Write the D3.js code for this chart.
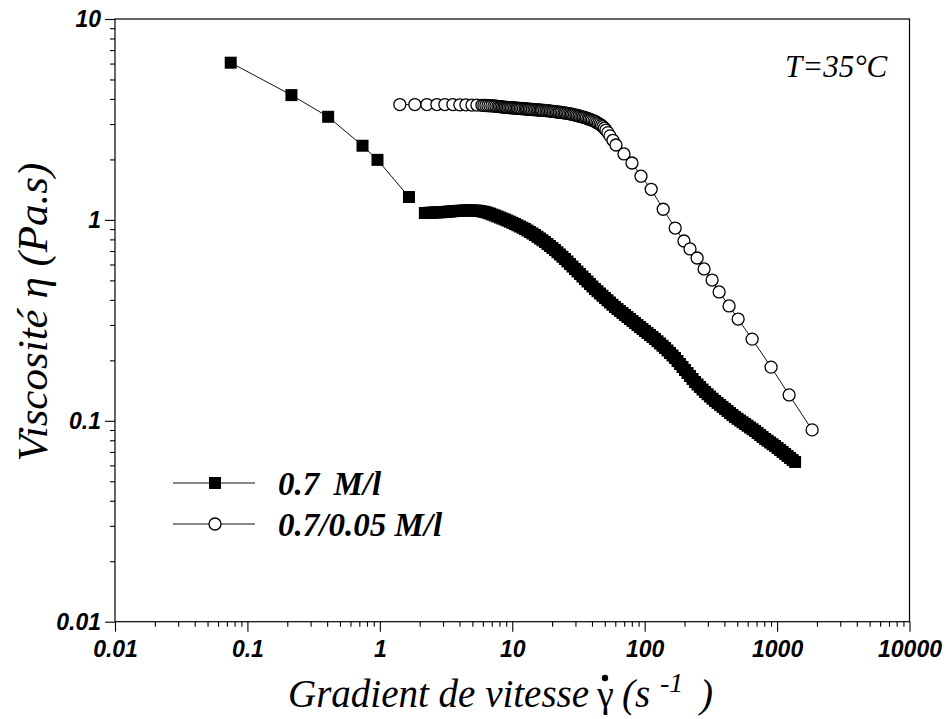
<!DOCTYPE html>
<html><head><meta charset="utf-8">
<script src="https://cdn.jsdelivr.net/npm/d3@7"></script>
<style>body{margin:0;background:#fff}svg{display:block}</style>
</head><body>
<svg id="c" width="951" height="719"></svg>
<script>
// ---- data ----
const xMajor = [0.01, 0.1, 1, 10, 100, 1000, 10000];
const xMajorLabels = ["0.01", "0.1", "1", "10", "100", "1000", "10000"];
const yMajor = [0.01, 0.1, 1, 10];
const yMajorLabels = ["0.01", "0.1", "1", "10"];

const seriesNames = ["0.7 M/l", "0.7/0.05 M/l"];
const annotation = "T=35°C";

// 0.7 M/l : first (low shear) points
const lowRate = [0.0748, 0.215, 0.407, 0.74, 0.96, 1.66];
const lowVisc = [6.06, 4.18, 3.26, 2.34, 1.99, 1.30];

// 0.7 M/l : dense ramp
const rampRate = [2.188, 2.285, 2.387, 2.493, 2.604, 2.720, 2.841, 2.967, 3.099, 3.237,
  3.381, 3.531, 3.688, 3.852, 4.022, 4.201, 4.388, 4.583, 4.787, 5.000,
  5.223, 5.455, 5.697, 5.951, 6.216, 6.492, 6.781, 7.082, 7.396, 7.725,
  8.069, 8.427, 8.802, 9.194, 9.603, 10.03, 10.48, 10.94, 11.43, 11.94,
  12.47, 13.02, 13.60, 14.21, 14.84, 15.50, 16.19, 16.91, 17.66, 18.44,
  19.26, 20.12, 21.01, 21.94, 22.92, 23.94, 25.00, 26.11, 27.28, 28.49,
  29.76, 31.08, 32.46, 33.91, 35.41, 36.99, 38.63, 40.35, 42.14, 44.02,
  45.97, 48.02, 50.15, 52.38, 54.71, 57.14, 59.68, 62.34, 65.11, 68.00,
  71.03, 74.19, 77.48, 80.93, 84.53, 88.29, 92.22, 96.32, 100.6, 105.1,
  109.7, 114.6, 119.7, 125.0, 130.6, 136.4, 142.5, 148.8, 155.4, 162.3,
  169.5, 177.1, 184.9, 193.1, 201.7, 210.7, 220.1, 229.9, 240.1, 250.8,
  261.9, 273.6, 285.8, 298.5, 311.8, 325.6, 340.1, 355.2, 371.0, 387.5,
  404.8, 422.8, 441.6, 461.2, 481.7, 503.1, 525.5, 548.9, 573.3, 598.8,
  625.4, 653.2, 682.3, 712.6, 744.3, 777.4, 812.0, 848.1, 885.8, 925.2,
  966.4, 1009, 1054, 1101, 1150, 1201, 1254, 1310, 1368];
const rampVisc = [1.082, 1.083, 1.085, 1.087, 1.089, 1.090, 1.092, 1.093, 1.095, 1.098,
  1.101, 1.104, 1.107, 1.108, 1.110, 1.112, 1.114, 1.115, 1.115, 1.115,
  1.114, 1.111, 1.107, 1.101, 1.095, 1.085, 1.075, 1.063, 1.052, 1.040,
  1.028, 1.016, 1.005, 0.992, 0.9796, 0.967, 0.9541, 0.9405, 0.9272, 0.914,
  0.9010, 0.8856, 0.8705, 0.8557, 0.8412, 0.8245, 0.8081, 0.792, 0.7762, 0.7586,
  0.7414, 0.7246, 0.7081, 0.690, 0.6727, 0.6556, 0.6389, 0.6208, 0.6032, 0.5861,
  0.5695, 0.5534, 0.5378, 0.5226, 0.5078, 0.4935, 0.4796, 0.4661, 0.4529, 0.4414,
  0.4301, 0.4192, 0.4086, 0.3982, 0.3880, 0.3781, 0.3685, 0.3602, 0.3520, 0.3440,
  0.3362, 0.3286, 0.3211, 0.3138, 0.3067, 0.2997, 0.2929, 0.2863, 0.2799, 0.2736,
  0.2674, 0.2613, 0.2554, 0.2489, 0.2426, 0.2364, 0.2304, 0.2239, 0.2176, 0.2114,
  0.2054, 0.1984, 0.1917, 0.1852, 0.1790, 0.1729, 0.1671, 0.1615, 0.1560, 0.1516,
  0.1473, 0.1431, 0.1391, 0.1356, 0.1321, 0.1288, 0.1255, 0.1227, 0.1199, 0.1172,
  0.1145, 0.1119, 0.1093, 0.1068, 0.1044, 0.1023, 0.1003, 0.0983, 0.0964, 0.0945,
  0.0926, 0.0908, 0.0890, 0.0870, 0.0850, 0.0831, 0.0812, 0.0796, 0.0780, 0.0764,
  0.0749, 0.0732, 0.0716, 0.0700, 0.0684, 0.0668, 0.0653, 0.0638, 0.0624];

// 0.7/0.05 M/l
const mixRate = [1.416, 1.838, 2.266, 2.697, 3.099, 3.562, 4.022, 4.467, 4.959, 5.41,
  5.90, 6.10, 6.32, 6.55, 6.78, 7.02, 7.27, 7.53, 7.79, 8.00,
  8.21, 8.43, 8.65, 8.88, 9.11, 9.35, 9.60, 9.85, 10.1, 10.38,
  10.66, 10.93, 11.2, 11.5, 11.8, 12.15, 12.5, 12.8, 13.1, 13.45,
  13.8, 14.2, 14.6, 15.0, 15.4, 15.8, 16.2, 16.6, 17.0, 17.5,
  18.0, 18.45, 18.9, 19.4, 19.9, 20.45, 21.0, 21.55, 22.1, 22.7,
  23.3, 23.95, 24.6, 25.25, 25.9, 26.6, 27.3, 28.0, 28.7, 29.5,
  30.3, 31.1, 31.9, 32.75, 33.6, 34.5, 35.4, 36.3, 37.3, 38.3,
  39.3, 40.3, 41.4, 42.5, 43.6, 44.8, 46.0, 47.2, 48.4, 49.7,
  51.0, 52.8, 54.7, 57.6, 60.7, 69.8, 80.2, 93.8, 112, 138,
  170, 198, 220, 249, 281, 323, 365, 434, 508, 648,
  901, 1233, 1839];
const mixVisc = [3.75, 3.75, 3.75, 3.75, 3.75, 3.75, 3.74, 3.74, 3.73, 3.73,
  3.72, 3.715, 3.71, 3.705, 3.70, 3.695, 3.69, 3.68, 3.67, 3.665,
  3.66, 3.65, 3.64, 3.635, 3.63, 3.625, 3.62, 3.615, 3.61, 3.605,
  3.60, 3.595, 3.59, 3.585, 3.58, 3.575, 3.57, 3.565, 3.56, 3.555,
  3.55, 3.545, 3.54, 3.535, 3.53, 3.525, 3.52, 3.515, 3.51, 3.505,
  3.50, 3.495, 3.49, 3.48, 3.47, 3.465, 3.46, 3.45, 3.44, 3.435,
  3.43, 3.42, 3.41, 3.40, 3.39, 3.38, 3.37, 3.36, 3.35, 3.335,
  3.32, 3.305, 3.29, 3.275, 3.26, 3.245, 3.23, 3.21, 3.19, 3.17,
  3.15, 3.13, 3.11, 3.08, 3.05, 3.02, 2.99, 2.95, 2.91, 2.86,
  2.80, 2.72, 2.62, 2.49, 2.36, 2.13, 1.92, 1.65, 1.42, 1.13,
  0.911, 0.785, 0.717, 0.646, 0.570, 0.502, 0.438, 0.373, 0.321, 0.255,
  0.185, 0.1345, 0.0901];

// ---- drawing ----
const svg = d3.select("#c");
const L = 115, R = 909.5, T = 19, B = 621.7;
const x = d3.scaleLog().domain([0.01, 10000]).range([L, R]);
const y = d3.scaleLog().domain([0.01, 10]).range([B, T]);

const minorOf = (majors) => {
  const out = [];
  for (let i = 0; i < majors.length - 1; i++)
    for (let k = 2; k <= 9; k++) out.push(majors[i] * k);
  return out;
};

const tickFont = "'Liberation Sans', Arial, sans-serif";
const serif = "'Liberation Serif', 'Times New Roman', serif";

// frame
svg.append("rect").attr("x", L).attr("y", T).attr("width", R - L).attr("height", B - T)
  .attr("fill", "none").attr("stroke", "#000").attr("stroke-width", 1.2);

// bottom axis
const gx = svg.append("g").attr("transform", `translate(0,${B})`);
gx.append("g").call(d3.axisBottom(x).tickValues(minorOf(xMajor)).tickSize(5).tickFormat(""))
  .call(g => g.select(".domain").remove());
gx.append("g").call(d3.axisBottom(x).tickValues(xMajor).tickSize(10)
    .tickFormat((d, i) => xMajorLabels[i]).tickPadding(9))
  .call(g => g.select(".domain").remove());
gx.selectAll("text").attr("font-family", tickFont).attr("font-weight", "bold")
  .attr("font-style", "italic").attr("font-size", 23).attr("fill", "#000");

// left axis
const gy = svg.append("g").attr("transform", `translate(${L},0)`);
gy.append("g").call(d3.axisLeft(y).tickValues(minorOf(yMajor)).tickSize(5).tickFormat(""))
  .call(g => g.select(".domain").remove());
gy.append("g").call(d3.axisLeft(y).tickValues(yMajor).tickSize(10)
    .tickFormat((d, i) => yMajorLabels[i]).tickPadding(4))
  .call(g => g.select(".domain").remove());
gy.selectAll("text").attr("font-family", tickFont).attr("font-weight", "bold")
  .attr("font-style", "italic").attr("font-size", 23).attr("fill", "#000");
svg.selectAll(".tick line").attr("stroke", "#000").attr("stroke-width", 1.1);

// series
const zip = (a, b) => a.slice(0, Math.min(a.length, b.length)).map((r, i) => [r, b[i]]);
const line = d3.line().x(d => x(d[0])).y(d => y(d[1]));
const lowPts = zip(lowRate, lowVisc);
const rampPts = zip(rampRate, rampVisc);
const mixPts = zip(mixRate, mixVisc);

[lowPts, rampPts, mixPts].forEach(p =>
  svg.append("path").attr("d", line(p)).attr("fill", "none")
    .attr("stroke", "#111").attr("stroke-width", 1));

const sq = 12;
svg.append("g").selectAll("rect").data(lowPts.concat(rampPts)).join("rect")
  .attr("x", d => x(d[0]) - sq / 2).attr("y", d => y(d[1]) - sq / 2)
  .attr("width", sq).attr("height", sq).attr("fill", "#000");

svg.append("g").selectAll("circle").data(mixPts).join("circle")
  .attr("cx", d => x(d[0])).attr("cy", d => y(d[1])).attr("r", 6)
  .attr("fill", "#fff").attr("stroke", "#000").attr("stroke-width", 1.3);

// legend
const legY = [483, 524];
legY.forEach((ly, i) => {
  svg.append("line").attr("x1", 173).attr("x2", 255).attr("y1", ly).attr("y2", ly)
    .attr("stroke", "#111").attr("stroke-width", 1);
  if (i === 0) svg.append("rect").attr("x", 215 - 6).attr("y", ly - 6).attr("width", 12).attr("height", 12).attr("fill", "#000");
  else svg.append("circle").attr("cx", 215).attr("cy", ly).attr("r", 6).attr("fill", "#fff").attr("stroke", "#000").attr("stroke-width", 1.3);
  svg.append("text").attr("x", 278).attr("y", ly + 12).text(seriesNames[i])
    .attr("font-family", serif).attr("font-style", "italic").attr("font-weight", "bold")
    .attr("font-size", 33).attr("word-spacing", i === 0 ? 6 : 0).attr("fill", "#000");
});

// annotation
svg.append("text").attr("x", 785).attr("y", 77).text(annotation)
  .attr("font-family", serif).attr("font-style", "italic").attr("font-size", 31);

// x title
const xtStyle = s => s.attr("font-family", serif).attr("font-style", "italic").attr("fill", "#000");
svg.append("text").attr("x", 288).attr("y", 707).attr("font-size", 39).call(xtStyle)
  .text("Gradient de vitesse");
svg.append("text").attr("x", 597).attr("y", 707).attr("font-size", 38)
  .attr("font-family", serif).attr("font-style", "normal").text("γ");
svg.append("circle").attr("cx", 605).attr("cy", 678).attr("r", 3.2).attr("fill", "#000");
svg.append("text").attr("x", 622).attr("y", 707).attr("font-size", 39).call(xtStyle).text("(s");
svg.append("text").attr("x", 660).attr("y", 692).attr("font-size", 28).call(xtStyle).text("-1");
svg.append("text").attr("x", 700).attr("y", 707).attr("font-size", 39).call(xtStyle).text(")");

// y title
svg.append("text").attr("transform", "translate(47,312) rotate(-90)")
  .attr("text-anchor", "middle").attr("font-family", serif).attr("font-style", "italic")
  .attr("font-size", 43).text("Viscosité  η  (Pa.s)");
</script>
</body></html>
